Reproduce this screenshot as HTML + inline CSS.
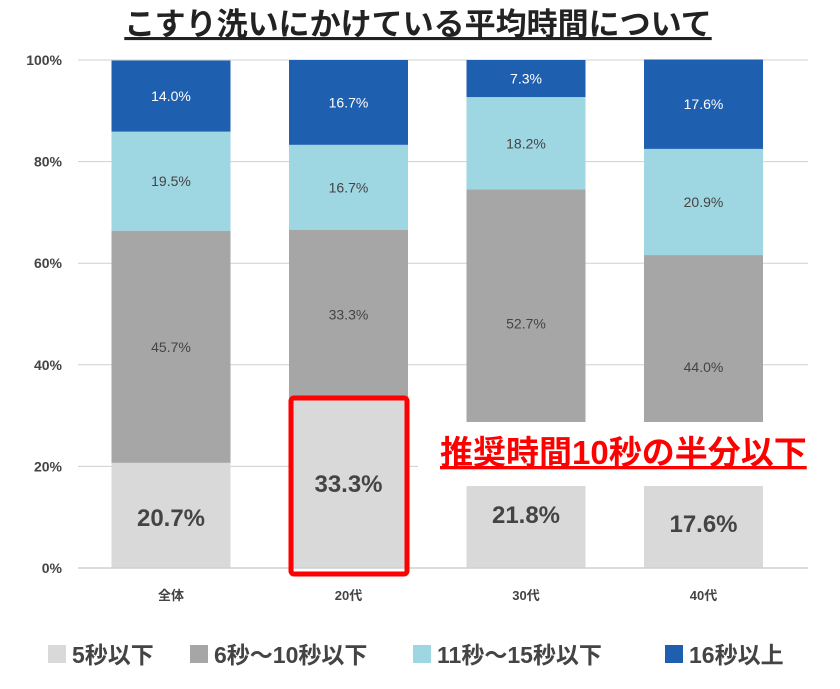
<!DOCTYPE html>
<html><head><meta charset="utf-8"><style>
body{margin:0;background:#fff}
svg text{font-family:"Liberation Sans","Noto Sans CJK JP",sans-serif}
</style></head><body>
<svg id="c" width="840" height="684" xmlns="http://www.w3.org/2000/svg">
<text x="418" y="35" text-anchor="middle" font-size="31" font-weight="bold" fill="#222" text-decoration="underline">こすり洗いにかけている平均時間について</text>
</svg>
<script>
const categories=["全体","20代","30代","40代"];
const s1=[20.7,33.3,21.8,17.6];
const s2=[45.7,33.3,52.7,44.0];
const s3=[19.5,16.7,18.2,20.9];
const s4=[14.0,16.7,7.3,17.6];
const ticks=[0,20,40,60,80,100];
const seriesNames=["5秒以下","6秒～10秒以下","11秒～15秒以下","16秒以上"];
const colors=["#d9d9d9","#a6a6a6","#9ed6e2","#1f5fb0"];
const svg=document.getElementById('c');const NS="http://www.w3.org/2000/svg";
const y=v=>568-v*5.08;const cx=i=>171+i*177.5;const BW=119;
function el(t,a,txt){const e=document.createElementNS(NS,t);for(const k in a)e.setAttribute(k,a[k]);if(txt!=null)e.textContent=txt;svg.appendChild(e);return e;}
ticks.forEach(t=>{const e=el('text',{x:62,y:y(t)+5,'text-anchor':'end','font-size':14,'font-weight':'bold',fill:'#444','font-family':'DejaVu Sans, sans-serif'},t+'%');


if(t>0){const l=el('line',{x1:78,x2:808,y1:y(t),y2:y(t),stroke:'#d0d0d0','stroke-width':1});

}});
const series=[s1,s2,s3,s4];
categories.forEach((c,i)=>{let base=0;series.forEach((s,k)=>{const v=s[i];const r=el('rect',{x:cx(i)-BW/2,y:y(base+v),width:BW,height:v*5.08,fill:colors[k]});


base+=v;});
const t=el('text',{x:cx(i),y:600,'text-anchor':'middle','font-size':13,'font-weight':'bold',fill:'#444'},c);

});
const ax=el('line',{x1:78,x2:808,y1:568,y2:568,stroke:'#d0d0d0','stroke-width':1.5});


const wb=el('rect',{x:418,y:422,width:400,height:64,fill:'#fff'});


const bigY=[526,492,523,532];
categories.forEach((c,i)=>{let base=0;series.forEach((s,k)=>{const v=s[i];const yy=k===0?bigY[i]:y(base+v/2)+5;
const t=el('text',{x:cx(i),y:yy,'text-anchor':'middle','font-size':k===0?24:14,'font-weight':k===0?'bold':'normal',fill:k===3?'#fff':'#444','font-family':'DejaVu Sans, sans-serif'},v.toFixed(1)+'%');


base+=v;});});
const rb=el('rect',{x:291,y:398,width:116,height:176,fill:'none',stroke:'#f00','stroke-width':5,rx:3});


const an=el('text',{x:440,y:464,'font-size':33,'font-weight':'bold',fill:'#f00','text-decoration':'underline'},'推奨時間10秒の半分以下');


const lx=[48,190,413,665];
seriesNames.forEach((n,k)=>{const r=el('rect',{x:lx[k],y:645,width:18,height:18,fill:colors[k]});


const t=el('text',{x:lx[k]+24,y:663,'font-size':23,'font-weight':'bold',fill:'#444'},n);

});
</script>
</body></html>
